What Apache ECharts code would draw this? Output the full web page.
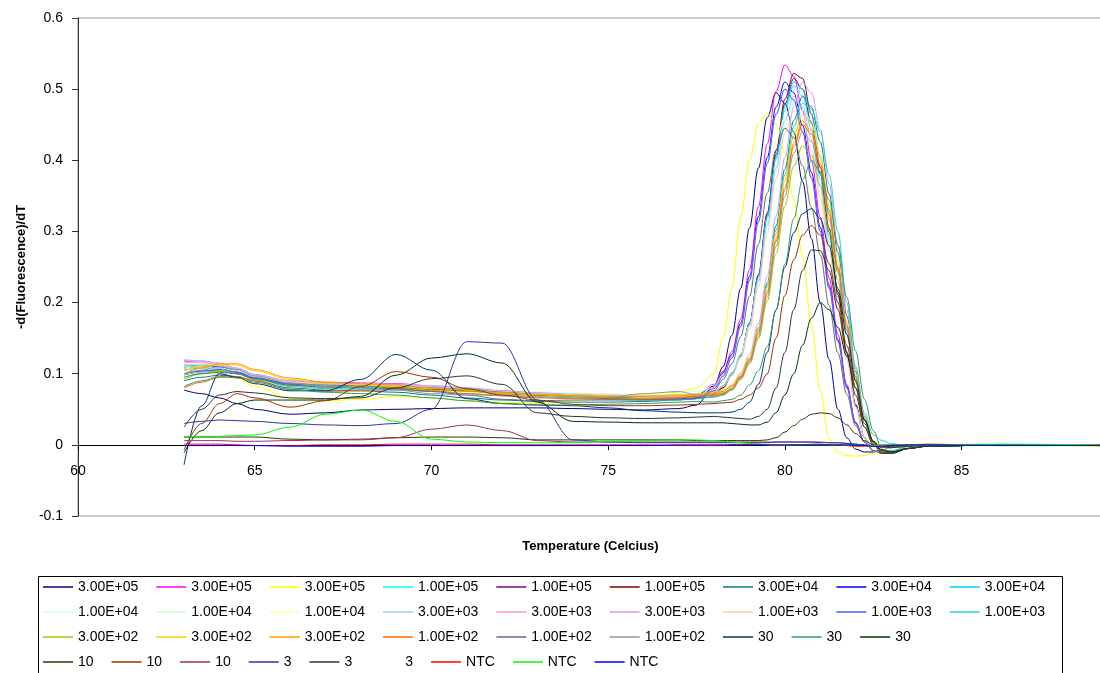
<!DOCTYPE html>
<html>
<head>
<meta charset="utf-8">
<script src="https://cdn.jsdelivr.net/npm/echarts@6/dist/echarts.min.js"></script>
<style>
  html, body { margin: 0; padding: 0; background: #fff; }
  #chart { width: 1100px; height: 673px; }
</style>
</head>
<body>
<div id="chart"></div>
<script>
const temps = [63, 63.5, 64, 64.5, 65, 66, 67, 68, 69, 70, 71, 72, 73, 74, 75, 76, 77, 77.5,
  78, 78.25, 78.5, 78.75, 79, 79.25, 79.5, 79.75, 80, 80.25, 80.5, 80.75, 81, 81.25, 81.5, 81.75,
  82, 82.25, 82.5, 82.75, 83, 83.5, 84, 86, 89]

const labels = [
  '3.00E+05', '3.00E+05', '3.00E+05', '1.00E+05', '1.00E+05', '1.00E+05', '3.00E+04', '3.00E+04', '3.00E+04',
  '1.00E+04', '1.00E+04', '1.00E+04', '3.00E+03', '3.00E+03', '3.00E+03', '1.00E+03', '1.00E+03', '1.00E+03',
  '3.00E+02', '3.00E+02', '3.00E+02', '1.00E+02', '1.00E+02', '1.00E+02', '30', '30', '30',
  '10', '10', '10', '3', '3', '3', 'NTC', 'NTC', 'NTC'
]

const colors = [
  '#000080', '#ff00ff', '#ffff00', '#00ffff', '#800080', '#800000', '#008080', '#0000ff', '#00ccff',
  '#ccffff', '#ccffcc', '#ffff99', '#99ccff', '#ff99cc', '#cc99ff', '#ffcc99', '#3366ff', '#33cccc',
  '#99cc00', '#ffcc00', '#ff9900', '#ff6600', '#666699', '#969696', '#003366', '#339966', '#003300',
  '#333300', '#993300', '#993366', '#333399', '#333333', '#ffffff', '#ff0000', '#00ff00', '#0000ff'
]

// -d(F)/dT per well, one value per entry of temps
const s01 = [0.077, 0.072, 0.066, 0.058, 0.05, 0.043, 0.045, 0.049, 0.05, 0.051, 0.052, 0.052, 0.052, 0.051, 0.05, 0.049, 0.051, 0.056,
  0.083, 0.11, 0.154, 0.22, 0.305, 0.389, 0.46, 0.495, 0.48, 0.44, 0.37, 0.29, 0.2, 0.12, 0.05, 0.01, -0.006, -0.01, -0.01, -0.007, -0.004, -0.002, -0.001, 0, 0]
const s02 = [0.118, 0.116, 0.112, 0.106, 0.097, 0.09, 0.088, 0.087, 0.086, 0.083, 0.08, 0.076, 0.073, 0.072, 0.07, 0.069, 0.07, 0.071,
  0.085, 0.103, 0.131, 0.177, 0.247, 0.335, 0.423, 0.497, 0.534, 0.518, 0.47, 0.40, 0.32, 0.235, 0.155, 0.085, 0.032, 0.004, -0.008, -0.012, -0.01, -0.005, -0.002, 0, -0.001]
const s03 = [0.095, 0.1, 0.1, 0.094, 0.082, 0.066, 0.062, 0.064, 0.068, 0.066, 0.062, 0.06, 0.058, 0.062, 0.066, 0.07, 0.074, 0.08,
  0.1, 0.15, 0.22, 0.32, 0.40, 0.452, 0.466, 0.45, 0.41, 0.345, 0.265, 0.17, 0.075, 0.008, -0.01, -0.015, -0.016, -0.015, -0.012, -0.008, -0.004, -0.002, -0.001, 0, -0.002]
const s04 = [0.11, 0.112, 0.11, 0.104, 0.094, 0.083, 0.08, 0.08, 0.082, 0.079, 0.077, 0.073, 0.07, 0.069, 0.067, 0.066, 0.067, 0.069,
  0.075, 0.083, 0.1, 0.127, 0.17, 0.235, 0.318, 0.401, 0.47, 0.505, 0.49, 0.444, 0.374, 0.293, 0.207, 0.126, 0.056, 0.01, -0.008, -0.012, -0.01, -0.004, -0.001, 0, -0.001]
const s05 = [0.108, 0.11, 0.108, 0.102, 0.094, 0.086, 0.084, 0.083, 0.082, 0.08, 0.078, 0.075, 0.072, 0.07, 0.068, 0.066, 0.067, 0.068,
  0.073, 0.081, 0.099, 0.126, 0.171, 0.238, 0.323, 0.408, 0.479, 0.515, 0.5, 0.453, 0.381, 0.299, 0.211, 0.129, 0.057, 0.01, -0.008, -0.012, -0.01, -0.004, -0.001, 0, -0.001]
const s06 = [0.1, 0.104, 0.104, 0.1, 0.092, 0.085, 0.083, 0.082, 0.08, 0.078, 0.076, 0.072, 0.07, 0.068, 0.065, 0.064, 0.065, 0.066,
  0.071, 0.08, 0.098, 0.125, 0.171, 0.239, 0.326, 0.413, 0.486, 0.522, 0.515, 0.465, 0.39, 0.305, 0.215, 0.13, 0.055, 0.01, -0.008, -0.012, -0.01, -0.004, -0.001, 0, -0.001]
const s07 = [0.09, 0.095, 0.098, 0.096, 0.09, 0.08, 0.077, 0.076, 0.074, 0.07, 0.066, 0.063, 0.061, 0.06, 0.06, 0.061, 0.063, 0.065,
  0.068, 0.071, 0.079, 0.096, 0.121, 0.164, 0.227, 0.308, 0.388, 0.456, 0.49, 0.475, 0.426, 0.353, 0.27, 0.181, 0.103, 0.039, 0.005, -0.012, -0.012, -0.005, -0.002, 0, -0.001]
const s08 = [0.112, 0.113, 0.11, 0.104, 0.096, 0.088, 0.086, 0.085, 0.084, 0.082, 0.08, 0.076, 0.073, 0.071, 0.069, 0.068, 0.069, 0.07,
  0.083, 0.101, 0.127, 0.171, 0.237, 0.321, 0.404, 0.475, 0.51, 0.495, 0.449, 0.383, 0.306, 0.224, 0.148, 0.082, 0.031, 0.004, -0.008, -0.012, -0.01, -0.005, -0.002, 0, -0.001]
const s09 = [0.105, 0.108, 0.108, 0.103, 0.094, 0.086, 0.083, 0.082, 0.082, 0.08, 0.078, 0.074, 0.072, 0.07, 0.068, 0.067, 0.068, 0.07,
  0.075, 0.083, 0.101, 0.127, 0.171, 0.237, 0.321, 0.404, 0.475, 0.51, 0.5, 0.465, 0.405, 0.33, 0.245, 0.16, 0.08, 0.025, 0.002, -0.008, -0.008, -0.003, -0.001, 0, 0]
const s10 = [0.115, 0.116, 0.114, 0.108, 0.1, 0.09, 0.087, 0.086, 0.085, 0.083, 0.081, 0.078, 0.075, 0.073, 0.072, 0.071, 0.072, 0.075,
  0.08, 0.087, 0.103, 0.128, 0.168, 0.229, 0.306, 0.383, 0.448, 0.48, 0.466, 0.422, 0.355, 0.278, 0.197, 0.12, 0.053, 0.01, -0.008, -0.012, -0.01, -0.004, -0.001, 0, -0.001]
const s11 = [0.108, 0.11, 0.108, 0.104, 0.096, 0.087, 0.084, 0.083, 0.083, 0.081, 0.078, 0.075, 0.072, 0.07, 0.068, 0.067, 0.068, 0.07,
  0.072, 0.075, 0.082, 0.098, 0.122, 0.162, 0.222, 0.298, 0.374, 0.438, 0.47, 0.456, 0.409, 0.338, 0.259, 0.174, 0.099, 0.038, 0.005, -0.012, -0.012, -0.005, -0.002, 0, -0.001]
const s12 = [0.112, 0.114, 0.112, 0.107, 0.098, 0.089, 0.086, 0.085, 0.084, 0.082, 0.08, 0.077, 0.074, 0.072, 0.07, 0.069, 0.07, 0.072,
  0.084, 0.099, 0.122, 0.161, 0.219, 0.293, 0.367, 0.429, 0.46, 0.446, 0.405, 0.345, 0.276, 0.202, 0.133, 0.074, 0.028, 0.004, -0.008, -0.012, -0.01, -0.005, -0.002, 0, -0.001]
const s13 = [0.12, 0.118, 0.114, 0.107, 0.098, 0.089, 0.086, 0.085, 0.084, 0.082, 0.08, 0.076, 0.073, 0.071, 0.069, 0.068, 0.069, 0.07,
  0.075, 0.083, 0.099, 0.125, 0.167, 0.23, 0.309, 0.389, 0.456, 0.49, 0.475, 0.431, 0.363, 0.284, 0.201, 0.123, 0.054, 0.01, -0.008, -0.012, -0.01, -0.004, -0.001, 0, -0.001]
const s14 = [0.116, 0.116, 0.112, 0.106, 0.097, 0.088, 0.085, 0.084, 0.083, 0.081, 0.079, 0.075, 0.072, 0.07, 0.068, 0.067, 0.067, 0.068,
  0.081, 0.098, 0.124, 0.167, 0.232, 0.314, 0.396, 0.465, 0.5, 0.485, 0.44, 0.375, 0.3, 0.22, 0.145, 0.08, 0.03, 0.004, -0.008, -0.012, -0.01, -0.005, -0.002, 0, -0.001]
const s15 = [0.118, 0.118, 0.115, 0.108, 0.099, 0.09, 0.087, 0.086, 0.085, 0.083, 0.08, 0.076, 0.073, 0.071, 0.069, 0.068, 0.069, 0.07,
  0.072, 0.075, 0.083, 0.101, 0.127, 0.171, 0.237, 0.321, 0.404, 0.475, 0.51, 0.495, 0.444, 0.367, 0.281, 0.189, 0.107, 0.041, 0.005, -0.012, -0.012, -0.005, -0.002, 0, -0.001]
const s16 = [0.112, 0.113, 0.111, 0.105, 0.097, 0.088, 0.085, 0.084, 0.083, 0.081, 0.079, 0.075, 0.072, 0.07, 0.068, 0.068, 0.069, 0.07,
  0.075, 0.082, 0.098, 0.122, 0.162, 0.222, 0.298, 0.374, 0.438, 0.47, 0.456, 0.414, 0.348, 0.273, 0.193, 0.118, 0.052, 0.009, -0.008, -0.012, -0.01, -0.004, -0.001, 0, -0.001]
const s17 = [0.1, 0.104, 0.106, 0.102, 0.094, 0.086, 0.084, 0.083, 0.082, 0.08, 0.078, 0.074, 0.071, 0.069, 0.067, 0.065, 0.065, 0.066,
  0.079, 0.096, 0.122, 0.166, 0.231, 0.313, 0.396, 0.465, 0.5, 0.485, 0.44, 0.375, 0.3, 0.22, 0.145, 0.08, 0.03, 0.004, -0.008, -0.012, -0.01, -0.005, -0.002, 0, -0.001]
const s18 = [0.098, 0.102, 0.104, 0.1, 0.092, 0.082, 0.079, 0.078, 0.077, 0.075, 0.072, 0.069, 0.067, 0.066, 0.064, 0.063, 0.063, 0.065,
  0.067, 0.07, 0.077, 0.094, 0.119, 0.16, 0.223, 0.302, 0.38, 0.447, 0.48, 0.472, 0.44, 0.38, 0.3, 0.2, 0.11, 0.045, 0.014, 0.006, 0.002, -0.002, -0.001, 0, 0]
const s19 = [0.092, 0.1, 0.104, 0.1, 0.092, 0.084, 0.082, 0.081, 0.08, 0.077, 0.075, 0.072, 0.07, 0.068, 0.066, 0.065, 0.066, 0.068,
  0.07, 0.072, 0.079, 0.093, 0.114, 0.149, 0.202, 0.269, 0.336, 0.392, 0.42, 0.407, 0.365, 0.302, 0.231, 0.155, 0.088, 0.034, 0.004, -0.012, -0.012, -0.005, -0.002, 0, -0.001]
const s20 = [0.104, 0.11, 0.114, 0.112, 0.104, 0.092, 0.086, 0.084, 0.082, 0.079, 0.077, 0.073, 0.071, 0.07, 0.069, 0.069, 0.07, 0.072,
  0.074, 0.077, 0.084, 0.1, 0.123, 0.162, 0.221, 0.296, 0.371, 0.434, 0.465, 0.451, 0.405, 0.335, 0.256, 0.172, 0.098, 0.037, 0.005, -0.012, -0.012, -0.005, -0.002, 0, -0.001]
const s21 = [0.1, 0.108, 0.114, 0.114, 0.106, 0.094, 0.088, 0.086, 0.084, 0.08, 0.077, 0.073, 0.071, 0.069, 0.068, 0.068, 0.069, 0.07,
  0.072, 0.075, 0.082, 0.097, 0.12, 0.159, 0.216, 0.289, 0.363, 0.424, 0.455, 0.441, 0.396, 0.328, 0.25, 0.168, 0.096, 0.036, 0.005, -0.012, -0.012, -0.005, -0.002, 0, -0.001]
const s22 = [0.08, 0.088, 0.095, 0.096, 0.09, 0.078, 0.075, 0.076, 0.078, 0.076, 0.072, 0.069, 0.066, 0.065, 0.064, 0.064, 0.066, 0.068,
  0.07, 0.073, 0.079, 0.095, 0.118, 0.156, 0.213, 0.286, 0.358, 0.419, 0.45, 0.437, 0.392, 0.324, 0.248, 0.167, 0.095, 0.036, 0.005, -0.012, -0.012, -0.005, -0.002, 0, -0.001]
const s23 = [0.095, 0.1, 0.102, 0.1, 0.093, 0.084, 0.081, 0.08, 0.079, 0.075, 0.07, 0.064, 0.062, 0.063, 0.063, 0.063, 0.064, 0.065,
  0.076, 0.092, 0.114, 0.152, 0.209, 0.282, 0.354, 0.415, 0.445, 0.432, 0.392, 0.334, 0.267, 0.196, 0.129, 0.071, 0.027, 0.004, -0.008, -0.012, -0.01, -0.005, -0.002, 0, -0.001]
const s24 = [0.1, 0.105, 0.11, 0.106, 0.097, 0.087, 0.083, 0.08, 0.077, 0.072, 0.07, 0.07, 0.068, 0.066, 0.067, 0.072, 0.075, 0.07,
  0.068, 0.07, 0.077, 0.092, 0.115, 0.152, 0.208, 0.279, 0.35, 0.41, 0.44, 0.427, 0.383, 0.317, 0.242, 0.163, 0.092, 0.035, 0.004, -0.012, -0.012, -0.005, -0.002, 0, -0.001]
const s25 = [-0.028, 0.055, 0.1, 0.095, 0.086, 0.076, 0.076, 0.092, 0.127, 0.105, 0.065, 0.058, 0.056, 0.055, 0.052, 0.048, 0.046, 0.045,
  0.045, 0.045, 0.046, 0.05, 0.06, 0.085, 0.13, 0.19, 0.25, 0.298, 0.325, 0.332, 0.318, 0.28, 0.22, 0.155, 0.09, 0.035, 0.005, -0.008, -0.01, -0.005, -0.002, 0, -0.001]
const s26 = [0.082, 0.09, 0.096, 0.094, 0.088, 0.078, 0.074, 0.072, 0.07, 0.066, 0.062, 0.058, 0.056, 0.056, 0.057, 0.058, 0.06, 0.061,
  0.06, 0.062, 0.064, 0.07, 0.084, 0.104, 0.138, 0.189, 0.254, 0.318, 0.373, 0.4, 0.384, 0.344, 0.28, 0.208, 0.132, 0.064, 0.02, -0.006, -0.01, -0.005, -0.002, 0, -0.001]
const s27 = [-0.011, 0.02, 0.045, 0.058, 0.063, 0.063, 0.063, 0.068, 0.098, 0.122, 0.128, 0.115, 0.06, 0.033, 0.032, 0.031, 0.031, 0.031,
  0.031, 0.031, 0.03, 0.029, 0.028, 0.028, 0.032, 0.045, 0.07, 0.1, 0.14, 0.178, 0.2, 0.19, 0.165, 0.125, 0.08, 0.035, 0.005, -0.008, -0.01, -0.005, -0.002, 0, -0.001]
const s28 = [0.011, 0.011, 0.011, 0.011, 0.011, 0.008, 0.007, 0.008, 0.01, 0.011, 0.011, 0.01, 0.007, 0.007, 0.007, 0.007, 0.007, 0.006,
  0.006, 0.006, 0.006, 0.006, 0.006, 0.006, 0.007, 0.01, 0.018, 0.027, 0.036, 0.043, 0.045, 0.044, 0.038, 0.028, 0.016, 0.006, 0, -0.003, -0.004, -0.002, -0.001, 0, 0]
const s29 = [-0.007, 0.03, 0.058, 0.072, 0.066, 0.053, 0.062, 0.082, 0.103, 0.095, 0.079, 0.07, 0.063, 0.057, 0.055, 0.055, 0.056, 0.057,
  0.058, 0.059, 0.06, 0.064, 0.07, 0.08, 0.1, 0.15, 0.21, 0.26, 0.295, 0.308, 0.295, 0.255, 0.2, 0.14, 0.08, 0.03, 0.003, -0.01, -0.012, -0.005, -0.002, 0, -0.001]
const s30 = [0.006, 0.006, 0.006, 0.005, 0.005, 0.006, 0.007, 0.007, 0.01, 0.022, 0.028, 0.02, 0.006, 0.004, 0.004, 0.004, 0.004, 0.004,
  0.004, 0.004, 0.004, 0.004, 0.004, 0.004, 0.004, 0.004, 0.004, 0.004, 0.004, 0.004, 0.004, 0.003, 0.003, 0.002, 0.001, 0, -0.001, -0.002, -0.002, -0.001, 0, 0, 0]
const s31 = [0.03, 0.033, 0.035, 0.034, 0.033, 0.03, 0.028, 0.027, 0.03, 0.05, 0.145, 0.143, 0.063, 0.007, 0.004, 0.003, 0.003, 0.003,
  0.003, 0.003, 0.003, 0.003, 0.003, 0.003, 0.003, 0.004, 0.004, 0.004, 0.004, 0.004, 0.003, 0.003, 0.003, 0.002, 0.001, 0, -0.002, -0.003, -0.002, -0.001, 0, 0, 0]
const s32 = [0.025, 0.05, 0.07, 0.075, 0.073, 0.066, 0.065, 0.066, 0.08, 0.093, 0.097, 0.085, 0.045, 0.04, 0.038, 0.037, 0.038, 0.039,
  0.04, 0.039, 0.038, 0.037, 0.036, 0.04, 0.05, 0.08, 0.13, 0.19, 0.245, 0.274, 0.273, 0.245, 0.19, 0.13, 0.07, 0.025, 0, -0.012, -0.012, -0.005, -0.002, 0, 0]
const s33 = [0.104, 0.106, 0.105, 0.1, 0.092, 0.084, 0.081, 0.08, 0.079, 0.077, 0.075, 0.072, 0.07, 0.068, 0.066, 0.065, 0.066, 0.068,
  0.07, 0.073, 0.08, 0.096, 0.12, 0.158, 0.215, 0.29, 0.365, 0.425, 0.455, 0.44, 0.395, 0.327, 0.25, 0.168, 0.095, 0.036, 0.005, -0.012, -0.012, -0.005, -0.002, 0, -0.001]
const s34 = [0.001, 0.001, 0.001, 0, -0.001, -0.001, 0, 0, 0.001, 0.001, 0.001, 0, 0, 0, 0, 0, -0.001, -0.001,
  -0.001, -0.001, 0, 0, 0.001, 0.001, 0, -0.001, -0.001, 0, 0, 0.001, 0.001, 0, 0, -0.001, -0.002, -0.002, -0.001, 0, 0, 0, 0.001, -0.001, 0]
const s35 = [0.012, 0.012, 0.012, 0.013, 0.014, 0.025, 0.043, 0.049, 0.033, 0.008, 0.004, 0.003, 0.003, 0.003, 0.005, 0.006, 0.007, 0.007,
  0.006, 0.005, 0.004, 0.003, 0.002, 0.001, 0, 0, 0, 0, 0, 0, 0, 0, 0, 0, 0, -0.001, -0.001, -0.001, 0, 0, 0, 0.001, 0]
const s36 = [-0.001, -0.001, -0.001, -0.001, -0.001, -0.002, -0.002, -0.002, -0.001, -0.001, -0.001, -0.001, -0.001, -0.001, -0.001, -0.001, 0, 0,
  0, 0, 0, 0, 0, 0, 0, 0, 0, 0, 0, 0, 0, 0, 0, 0, 0, -0.001, -0.002, -0.002, -0.001, 0, 0, -0.001, -0.001]

const values = [s01, s02, s03, s04, s05, s06, s07, s08, s09, s10, s11, s12, s13, s14, s15, s16, s17, s18,
  s19, s20, s21, s22, s23, s24, s25, s26, s27, s28, s29, s30, s31, s32, s33, s34, s35, s36]

const font = "'Liberation Sans', Arial, sans-serif"

const series = labels.map((label, i) => ({
  name: label + '|' + i,
  type: 'line',
  data: temps.map((t, j) => [t, values[i][j]]),
  symbol: 'none',
  smooth: 0.35,
  smoothMonotone: 'x',
  z: colors[i] === '#ffffff' ? 1 : 2,
  lineStyle: { width: 1, color: colors[i] },
  itemStyle: { color: colors[i] },
  emphasis: { disabled: true }
}))

const rowTops = [580, 605, 630, 655]
const legend = rowTops.map((top, r) => ({
  left: 43,
  top: top,
  padding: 0,
  icon: 'rect',
  itemWidth: 30,
  itemHeight: 1.5,
  itemGap: 18,
  selectedMode: false,
  data: series.slice(r * 9, r * 9 + 9).map(s => s.name),
  formatter: name => name.split('|')[0],
  textStyle: { fontFamily: font, fontSize: 14, color: '#000', width: 62 }
}))

const chart = echarts.init(document.getElementById('chart'))
chart.setOption({
  animation: false,
  backgroundColor: '#fff',
  grid: {
    left: 78, top: 18, width: 1025, height: 498,
    show: true, borderColor: '#9a9a9a', borderWidth: 1,
    containLabel: false, outerBoundsMode: 'none'
  },
  legend: legend,
  graphic: [{
    type: 'rect',
    silent: true,
    shape: { x: 38.5, y: 576.5, width: 1024, height: 110 },
    style: { fill: 'none', stroke: '#000', lineWidth: 1 }
  }],
  xAxis: {
    type: 'value',
    min: 60,
    max: 89,
    interval: 5,
    offset: -71,
    name: 'Temperature (Celcius)',
    nameLocation: 'middle',
    nameGap: 95,
    nameTextStyle: { fontFamily: font, fontSize: 13, fontWeight: 'bold', color: '#000' },
    axisLine: { onZero: false, lineStyle: { color: '#000', width: 1 } },
    axisTick: { length: 5, lineStyle: { color: '#000' } },
    axisLabel: {
      margin: 19, fontFamily: font, fontSize: 14, color: '#000',
      formatter: v => (v % 5 === 0 ? String(v) : '')
    },
    splitLine: { show: false }
  },
  yAxis: {
    type: 'value',
    min: -0.1,
    max: 0.6,
    interval: 0.1,
    name: '-d(Fluorescence)/dT',
    nameLocation: 'middle',
    nameGap: 50,
    nameTextStyle: { fontFamily: font, fontSize: 13, fontWeight: 'bold', color: '#000' },
    axisLine: { show: true, lineStyle: { color: '#333', width: 1 } },
    axisTick: { show: true, length: 6, lineStyle: { color: '#333' } },
    axisLabel: { margin: 15, fontFamily: font, fontSize: 14, color: '#000' },
    splitLine: { show: false }
  },
  series: series
})
</script>
</body>
</html>
